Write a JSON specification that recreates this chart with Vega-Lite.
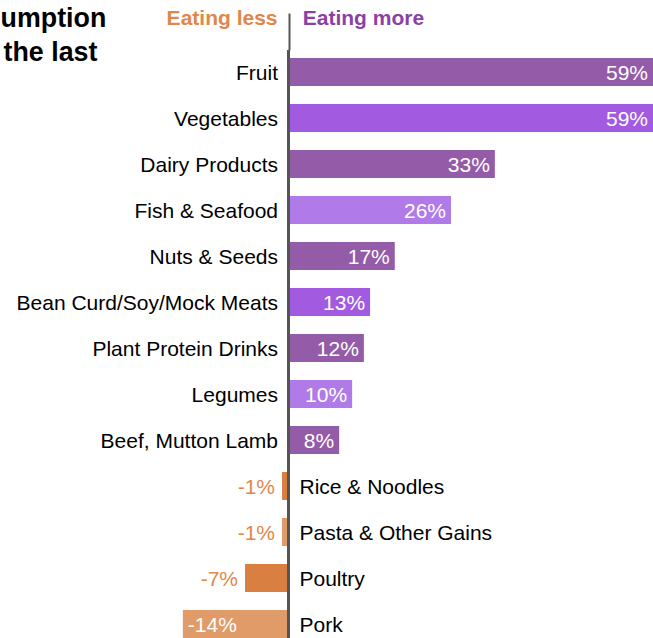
{
  "$schema": "https://vega.github.io/schema/vega-lite/v6.json",
  "autosize": "none",
  "width": 653,
  "height": 596,
  "padding": {"top": 50, "left": 0, "right": 0, "bottom": 0},
  "background": "white",
  "config": {"view": {"stroke": null}, "font": "Liberation Sans"},
  "title": {
    "text": ["Recorded consumption", "compared with the last"],
    "anchor": "start",
    "frame": "group",
    "orient": "top",
    "baseline": "top",
    "offset": 0,
    "dx": -193,
    "dy": 60,
    "font": "Liberation Sans",
    "fontSize": 26.8,
    "fontWeight": "bold",
    "lineHeight": 34,
    "color": "#000000"
  },
  "data": {
    "values": [
      {"food": "Fruit", "value": 59, "label": "59%", "shade": "dark"},
      {"food": "Vegetables", "value": 59, "label": "59%", "shade": "bright"},
      {"food": "Dairy Products", "value": 33.4, "label": "33%", "shade": "dark"},
      {"food": "Fish & Seafood", "value": 26.3, "label": "26%", "shade": "light"},
      {"food": "Nuts & Seeds", "value": 17.2, "label": "17%", "shade": "dark"},
      {"food": "Bean Curd/Soy/Mock Meats", "value": 13.2, "label": "13%", "shade": "bright"},
      {"food": "Plant Protein Drinks", "value": 12.2, "label": "12%", "shade": "dark"},
      {"food": "Legumes", "value": 10.3, "label": "10%", "shade": "light"},
      {"food": "Beef, Mutton Lamb", "value": 8.2, "label": "8%", "shade": "dark"},
      {"food": "Rice & Noodles", "value": -1.05, "label": "-1%", "shade": "orange"},
      {"food": "Pasta & Other Gains", "value": -1.05, "label": "-1%", "shade": "paleorange"},
      {"food": "Poultry", "value": -7.04, "label": "-7%", "shade": "orange"},
      {"food": "Pork", "value": -17.1, "label": "-14%", "shade": "paleorange"}
    ]
  },
  "encoding": {
    "y": {
      "field": "food",
      "type": "nominal",
      "sort": null,
      "axis": null,
      "scale": {"paddingInner": 0.391, "paddingOuter": 0.174}
    }
  },
  "layer": [
    {
      "mark": {"type": "bar", "clip": true},
      "encoding": {
        "x": {
          "field": "value",
          "type": "quantitative",
          "scale": {"domain": [-46.7, 59], "nice": false, "zero": false},
          "axis": {
            "orient": "top",
            "values": [-1.86, 0, 2.23],
            "title": null,
            "domain": false,
            "grid": false,
            "ticks": true,
            "tickSize": 37,
            "tickWidth": 2,
            "tickColor": {"condition": {"test": "datum.value === 0", "value": "#555555"}, "value": "transparent"},
            "labelExpr": "datum.value < 0 ? 'Eating less' : (datum.value > 0 ? 'Eating more' : '')",
            "labelColor": {"condition": {"test": "datum.value < 0", "value": "#E0874A"}, "value": "#8B3FA8"},
            "labelAlign": {"condition": {"test": "datum.value < 0", "value": "right"}, "value": "left"},
            "labelFont": "Liberation Sans",
            "labelFontSize": 21,
            "labelFontWeight": "bold",
            "labelPadding": -15,
            "labelOverlap": false,
            "labelFlush": false,
            "labelBound": false
          }
        },
        "x2": {"datum": 0},
        "color": {
          "field": "shade",
          "type": "nominal",
          "legend": null,
          "scale": {
            "domain": ["dark", "bright", "light", "orange", "paleorange"],
            "range": ["#945BA9", "#A15AE0", "#B07BE8", "#D97F41", "#E19B69"]
          }
        }
      }
    },
    {
      "mark": {"type": "rule", "color": "#555555", "strokeWidth": 2},
      "encoding": {"x": {"datum": 0}, "y": null}
    },
    {
      "transform": [{"filter": "datum.value > 0"}],
      "mark": {"type": "text", "align": "right", "baseline": "middle", "dx": -5, "dy": 2, "fontSize": 21, "color": "white", "font": "Liberation Sans"},
      "encoding": {"x": {"field": "value", "type": "quantitative"}, "text": {"field": "label"}}
    },
    {
      "transform": [{"filter": "datum.value < 0 && datum.value > -10"}],
      "mark": {"type": "text", "align": "right", "baseline": "middle", "dx": -7, "dy": 2, "fontSize": 21, "color": "#E0874A", "font": "Liberation Sans"},
      "encoding": {"x": {"field": "value", "type": "quantitative"}, "text": {"field": "label"}}
    },
    {
      "transform": [{"filter": "datum.value <= -10"}],
      "mark": {"type": "text", "align": "left", "baseline": "middle", "dx": 5, "dy": 2, "fontSize": 21, "color": "white", "font": "Liberation Sans"},
      "encoding": {"x": {"field": "value", "type": "quantitative"}, "text": {"field": "label"}}
    },
    {
      "transform": [{"filter": "datum.value > 0"}],
      "mark": {"type": "text", "align": "right", "baseline": "middle", "dx": -10.5, "dy": 2, "fontSize": 21, "color": "#000000", "font": "Liberation Sans"},
      "encoding": {"x": {"datum": 0}, "text": {"field": "food"}}
    },
    {
      "transform": [{"filter": "datum.value < 0"}],
      "mark": {"type": "text", "align": "left", "baseline": "middle", "dx": 11, "dy": 2, "fontSize": 21, "color": "#000000", "font": "Liberation Sans"},
      "encoding": {"x": {"datum": 0}, "text": {"field": "food"}}
    }
  ]
}
